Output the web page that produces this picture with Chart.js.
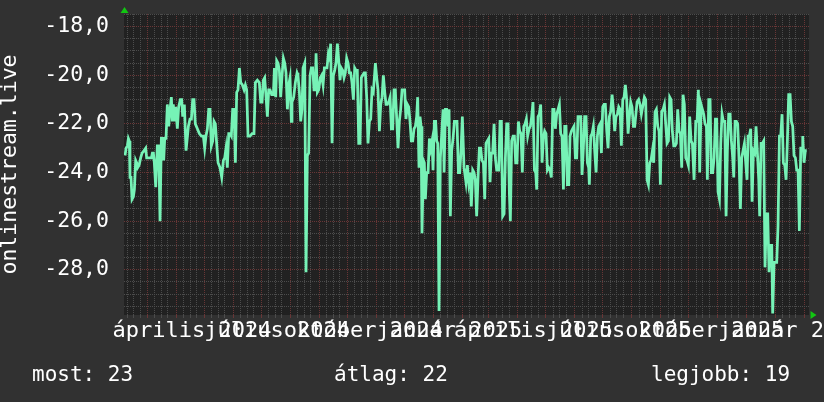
<!DOCTYPE html>
<html>
<head>
<meta charset="utf-8">
<script src="https://cdn.jsdelivr.net/npm/chart.js@4.4.1/dist/chart.umd.min.js"></script>
<style>
    html, body { margin: 0; padding: 0; background: #313131; }
    #wrap { width: 824px; height: 402px; }
</style>
</head>
<body>
<div id="wrap"><canvas id="chart" width="824" height="402"></canvas></div>
<script>
// days counted from this date
const startDate = '2024-03-01';

// spring - summer 2024
const daysA = [-23.5,-22.4,-21.0,-19.9,-18.9,-18.2,-17.1,-16.0,-14.6,-13.5,-12.1,-11.0,-10.0,-8.5,-6.8,-5.3,-3.2,-1.4,-0.4,2.5,
    4.6,5.7,6.8,7.8,9.3,11.0,12.5,13.9,15.3,16.7,17.8,18.9,20.3,21.7,23.2,24.6,26.0,27.1,28.1,29.2,
    30.6,32.4,33.8,35.6,37.0,38.1,39.9,41.7,42.7,44.2,45.9,47.4,48.8,50.2,51.6,53.8,55.9,58.1,60.2,61.6,
    63.0,64.5,65.9,67.3,68.7,70.2,71.6,73.0,74.4,75.9,78.0,79.8,81.6,83.0,84.4,85.8,87.3,88.7,90.1,91.5,
    93.0,94.4,95.8,97.2,98.7,100.1,101.9,103.7,105.1,106.5,107.9,110.1,112.2,114.3,115.8,117.9,120.0,121.5,122.9,124.3,
    125.7,127.2,128.6,130.0,131.4,133.2,135.0,136.1,137.5,138.6,140.0,141.4,142.8,144.3,145.7,147.1,148.5,150.0,151.4,152.8,
    154.2];
const valsA = [-23.3,-23.0,-22.9,-22.6,-22.7,-24.2,-24.2,-25.1,-25.0,-24.7,-23.5,-23.6,-23.8,-23.7,-23.4,-23.2,-23.1,-23.0,-23.4,-23.4,
    -23.4,-23.2,-23.2,-23.6,-24.6,-22.9,-22.9,-26.0,-22.6,-22.6,-23.5,-22.6,-22.6,-21.2,-22.1,-21.4,-20.9,-21.9,-21.2,-21.9,
    -21.3,-22.2,-21.3,-21.0,-21.0,-21.7,-21.2,-23.1,-23.1,-22.1,-21.8,-21.8,-21.0,-21.0,-22.0,-22.2,-22.4,-22.5,-22.5,-23.0,
    -22.5,-22.2,-21.4,-21.4,-22.9,-22.7,-21.9,-22.0,-22.8,-23.6,-23.8,-24.2,-23.5,-23.4,-23.0,-23.8,-22.4,-22.4,-22.5,-21.4,
    -21.4,-23.6,-20.7,-20.6,-19.7,-20.3,-20.4,-20.6,-20.4,-20.6,-22.5,-22.5,-22.4,-22.4,-20.3,-20.2,-20.3,-21.1,-21.1,-20.2,
    -20.1,-20.9,-21.7,-20.6,-20.6,-20.8,-20.8,-19.7,-20.9,-19.4,-19.5,-19.8,-20.9,-20.0,-19.3,-19.5,-19.9,-21.4,-20.4,-20.1,
    -21.9];

// autumn 2024 - winter
const daysB = [154.9,156.7,158.5,160.3,161.3,162.8,164.2,165.6,166.7,168.5,169.9,171.3,172.7,174.2,175.6,177.0,178.4,179.9,180.6,182.0,
    183.4,185.2,186.6,188.1,189.5,190.9,192.3,193.8,195.2,196.2,197.7,199.1,200.5,201.9,203.4,204.8,206.2,207.6,209.1,210.5,
    211.9,213.3,214.8,216.2,217.6,219.0,220.5,221.9,223.3,224.7,226.2,227.6,229.0,230.4,231.9,233.3,234.7,236.1,237.6,239.0,
    240.4,241.8,244.0,245.4,246.8,248.3,249.7,251.1,252.5,254.0,255.4,256.8,258.2,259.7,261.1,262.5,263.9,265.3,266.8,268.2,
    269.6,271.0,272.5,273.9,275.3,276.7,278.2,279.6,281.0,282.4,283.9,285.3,286.7,288.1,289.2,290.6,291.7,292.8,293.8,295.3,
    296.3,297.4,298.8,300.3,301.7,303.1,304.5,305.6,307.0,308.4,309.5,310.6,312.0,313.4,314.9,316.3,317.4,318.8,320.2,321.6,
    322.7,324.1,325.5,327.0,328.4,329.8,331.2,332.7,334.1,335.5,336.9];
const valsB = [-21.1,-20.9,-20.3,-19.9,-20.0,-20.7,-21.9,-21.4,-19.7,-19.5,-28.1,-23.3,-23.2,-20.0,-19.7,-19.7,-20.6,-20.6,-19.1,-20.7,
    -20.6,-20.1,-20.0,-20.4,-19.7,-19.7,-19.7,-19.1,-19.3,-18.7,-22.8,-20.0,-19.8,-19.5,-18.7,-19.4,-20.2,-19.7,-19.8,-20.1,
    -19.9,-19.3,-19.5,-19.9,-19.9,-20.3,-21.0,-19.7,-19.8,-19.8,-22.8,-22.8,-20.1,-20.0,-19.9,-19.9,-20.9,-22.8,-21.9,-21.8,
    -20.6,-20.7,-19.5,-20.1,-20.6,-22.3,-21.2,-20.9,-20.0,-20.7,-21.2,-21.2,-21.1,-20.9,-22.2,-22.2,-20.6,-20.6,-21.8,-23.0,
    -21.9,-21.4,-20.6,-20.6,-20.6,-21.8,-21.2,-21.3,-21.9,-22.7,-22.7,-22.2,-22.1,-21.7,-20.9,-23.8,-21.7,-22.1,-26.5,-23.5,
    -23.6,-25.1,-24.0,-24.0,-22.6,-23.0,-22.7,-23.9,-21.9,-21.9,-22.7,-22.8,-29.7,-23.4,-22.4,-21.4,-24.0,-21.4,-21.4,-22.1,
    -21.4,-25.8,-23.1,-22.6,-21.9,-21.9,-21.9,-24.0,-24.0,-23.1,-21.7];

// 2025 first half
const daysC = [338.7,340.8,342.3,343.7,345.1,346.5,348.0,349.4,350.8,352.2,353.7,355.1,356.5,357.9,359.4,360.8,362.2,363.6,365.1,366.5,
    367.9,369.3,370.8,372.2,373.6,375.8,377.2,378.6,380.0,381.5,382.9,384.3,385.7,387.2,388.2,389.6,391.1,392.5,393.9,395.3,
    396.8,398.2,399.6,401.0,402.5,403.9,405.3,406.7,408.2,409.6,411.0,412.4,413.9,415.3,416.4,417.8,419.2,420.6,422.1,423.5,
    424.9,426.3,427.8,429.2,430.6,432.0,433.5,434.9,436.3,437.7,439.2,440.6,442.0,443.4,444.9,446.3,447.7,449.1,450.6,452.0,
    453.4,454.8,456.2,457.7,459.1,460.5,461.9,463.4,464.8,466.2,467.6,469.1,470.5,471.9,472.6,474.1,475.5,476.9,478.3,479.8,
    481.2,482.6,484.0,485.5,486.9,488.3,489.7,491.2,492.6,494.0,495.4,496.9,498.3,499.7,501.1,502.6,504.0,505.4,506.8,508.3,
    509.7,511.1,512.5,514.0,515.4,516.8,518.2,519.7,521.1];
const valsC = [-23.8,-24.4,-23.7,-24.4,-24.0,-25.4,-23.9,-24.0,-24.3,-25.8,-24.2,-23.0,-23.0,-23.5,-23.6,-25.1,-22.8,-22.7,-22.6,-24.4,
    -23.2,-23.2,-22.0,-23.4,-23.9,-23.9,-21.9,-21.9,-25.8,-25.7,-23.4,-22.0,-22.0,-24.9,-26.0,-22.7,-22.5,-22.5,-23.6,-23.6,
    -21.9,-22.3,-22.4,-24.0,-22.1,-22.0,-21.8,-22.5,-22.2,-22.1,-21.7,-21.1,-23.9,-24.0,-24.7,-21.7,-21.6,-21.2,-23.6,-22.6,
    -22.3,-22.4,-23.9,-23.8,-23.9,-24.2,-21.4,-21.4,-22.2,-21.6,-21.4,-21.2,-22.4,-22.5,-24.7,-22.1,-22.1,-24.5,-24.5,-22.5,
    -22.3,-22.2,-22.1,-23.4,-23.4,-21.7,-21.7,-21.7,-24.1,-23.0,-21.7,-21.7,-23.6,-23.8,-24.5,-22.5,-22.4,-22.1,-23.1,-24.0,
    -22.5,-22.1,-22.0,-23.2,-21.3,-21.2,-21.2,-22.3,-23.0,-21.7,-21.5,-20.8,-21.4,-22.3,-21.7,-21.6,-21.3,-21.4,-22.9,-21.0,
    -20.9,-20.4,-21.0,-22.4,-21.7,-21.1,-21.3,-22.1,-22.1];

// 2025 second half - 2026
const daysD = [523.6,525.3,526.8,528.2,529.6,531.4,532.8,534.3,535.7,537.1,538.5,540.0,541.4,542.8,544.2,545.7,547.1,548.5,549.9,551.4,
    552.8,554.2,555.6,557.1,558.5,559.9,561.3,562.8,564.2,565.6,567.0,568.5,569.9,571.3,572.7,574.1,575.6,577.0,578.4,579.8,
    581.3,582.7,584.5,586.3,587.7,589.1,590.5,592.0,593.4,594.8,596.2,597.7,598.7,600.2,601.6,603.0,604.4,605.9,607.3,608.7,
    610.1,611.6,613.0,614.4,615.8,617.3,618.7,620.1,621.5,623.0,624.4,625.8,626.9,628.3,629.7,631.1,632.6,634.0,635.4,636.8,
    638.3,639.7,641.1,642.2,643.6,645.0,646.5,647.9,649.3,650.7,652.2,653.6,654.6,656.1,657.5,658.9,660.3,661.8,663.2,664.6,
    666.0,667.5,668.5,670.0,671.4,672.8,674.2,675.7,677.1,678.5,679.9,681.4,682.8,684.2,685.6,687.1,688.5,689.9,691.3,692.8,
    694.2,695.6,697.0,698.5,699.9,700.6,702.0,703.4,704.9];
const valsD = [-21.1,-21.0,-21.2,-21.6,-21.3,-20.9,-21.0,-24.3,-24.5,-23.6,-23.5,-23.1,-23.6,-21.5,-21.4,-22.1,-22.3,-24.5,-21.5,-21.4,
    -21.2,-22.0,-22.8,-22.7,-20.9,-21.0,-22.3,-22.9,-22.9,-22.8,-21.4,-22.3,-22.4,-23.8,-20.8,-21.2,-23.4,-23.5,-23.7,-21.7,
    -22.7,-22.8,-24.3,-21.9,-21.9,-20.6,-24.0,-21.2,-21.4,-21.6,-22.0,-22.1,-24.3,-21.0,-21.0,-24.0,-24.0,-23.4,-21.8,-21.8,
    -24.8,-25.1,-22.8,-21.6,-21.9,-21.9,-25.8,-23.1,-21.6,-21.6,-22.7,-23.4,-24.2,-21.9,-21.9,-22.0,-23.5,-25.5,-23.4,-23.1,
    -22.8,-23.6,-24.3,-22.5,-22.5,-22.2,-25.2,-23.1,-23.2,-22.1,-23.2,-24.3,-25.8,-22.8,-22.8,-22.7,-27.9,-25.7,-25.7,-28.1,
    -27.0,-27.0,-29.8,-27.7,-27.7,-27.7,-26.2,-22.5,-22.5,-21.6,-23.6,-23.7,-24.3,-22.7,-20.8,-20.8,-21.9,-22.1,-23.3,-23.4,
    -23.9,-23.9,-26.4,-23.0,-23.0,-22.5,-23.6,-23.1,-23.1];

// axis labels
const xLabelDates = ['2024-04-01', '2024-07-01', '2024-10-01', '2025-01-01', '2025-04-01', '2025-07-01', '2025-10-01', '2026-01-01'];
const xLabelTexts = ['április 2024', 'július 2024', 'október 2024', 'január 2025', 'április 2025', 'július 2025', 'október 2025', 'január 2026'];
const yTitle = 'onlinestream.live';

// summary line under the chart
const summaryNames = ['most', 'átlag', 'legjobb'];
const summaryValues = [23, 22, 19];

// visible range
const xMin = -24.6, xMax = 707.3;
const yMin = -29.86, yMax = -17.48;

const FONT = 'DejaVu Sans Mono';
const LINE = '#76f2b6';
const GRID_MINOR = '#4c4c4c';
const GRID_MAJOR = '#683636';

function dayOf(s) {
    return (Date.parse(s) - Date.parse(startDate)) / 86400000;
}

const points = [];
[[daysA, valsA], [daysB, valsB], [daysC, valsC], [daysD, valsD]].forEach(([ds, vs]) => {
    ds.forEach((d, i) => points.push({ x: d, y: vs[i] }));
});

function buildXTicks() {
    const out = [];
    const base = Date.parse(startDate);
    for (let k = -2; k < 26; k++) {
        const y = 2024 + Math.floor((2 + k) / 12);
        const m = ((2 + k) % 12 + 12) % 12;
        out.push({ value: (Date.UTC(y, m, 1) - base) / 86400000, kind: 'major' });
        [9, 16, 23].forEach(day => {
            out.push({ value: (Date.UTC(y, m, day) - base) / 86400000, kind: 'minor' });
        });
    }
    xLabelDates.forEach((s, i) => {
        // rrdtool puts the label about half a month after the grid line
        out.push({ value: dayOf(s) + 17, kind: 'label', text: xLabelTexts[i] });
    });
    return out.filter(t => t.value >= xMin && t.value <= xMax).sort((a, b) => a.value - b.value);
}

function buildYTicks() {
    const out = [];
    for (let v = -29.5; v <= -17.5; v += 0.5) {
        out.push({ value: v, kind: (Math.abs(v % 2) < 1e-6) ? 'major' : 'minor' });
    }
    return out;
}

const decorPlugin = {
    id: 'decor',
    beforeDraw(chart) {
        const { ctx, chartArea: a } = chart;
        ctx.save();
        ctx.fillStyle = '#313131';
        ctx.fillRect(0, 0, chart.width, chart.height);
        ctx.fillStyle = '#212121';
        ctx.fillRect(a.left, a.top, a.right - a.left, a.bottom - a.top);
        ctx.restore();
    },
    afterDraw(chart) {
        const { ctx, chartArea: a } = chart;
        ctx.save();
        // axis arrows
        ctx.fillStyle = '#12c612';
        ctx.beginPath();
        ctx.moveTo(a.left - 3.5, a.top - 1);
        ctx.lineTo(a.left + 4.5, a.top - 1);
        ctx.lineTo(a.left + 0.5, a.top - 7);
        ctx.fill();
        ctx.beginPath();
        ctx.moveTo(a.right + 1.5, a.bottom - 4);
        ctx.lineTo(a.right + 1.5, a.bottom + 4);
        ctx.lineTo(a.right + 7.5, a.bottom);
        ctx.fill();
        // summary
        ctx.fillStyle = '#ffffff';
        ctx.font = '21px "' + FONT + '"';
        ctx.textBaseline = 'alphabetic';
        const xs = [32, 334, 651];
        summaryNames.forEach((n, i) => {
            ctx.fillText(n + ': ' + summaryValues[i], xs[i], 381);
        });
        ctx.restore();
    }
};

new Chart(document.getElementById('chart'), {
    type: 'line',
    data: {
        datasets: [{
            data: points,
            borderColor: LINE,
            borderWidth: 2.75,
            pointRadius: 0,
            tension: 0,
            fill: false
        }]
    },
    options: {
        responsive: false,
        animation: false,
        events: [],
        layout: { padding: { top: 14, right: 15, bottom: 0, left: 0 } },
        plugins: { legend: { display: false }, tooltip: { enabled: false } },
        scales: {
            x: {
                type: 'linear',
                min: xMin,
                max: xMax,
                afterBuildTicks: s => { s.ticks = buildXTicks(); },
                afterFit: s => { s.height = 87; s.paddingLeft = 0; s.paddingRight = 0; },
                ticks: {
                    autoSkip: false,
                    maxRotation: 0,
                    minRotation: 0,
                    padding: 0,
                    color: '#ffffff',
                    font: { family: FONT, size: 22 },
                    callback: (v, i, ticks) => ticks[i].kind === 'label' ? ticks[i].text : ''
                },
                grid: {
                    color: c => c.tick.kind === 'major' ? GRID_MAJOR : (c.tick.kind === 'minor' ? GRID_MINOR : 'rgba(0,0,0,0)'),
                    lineWidth: 1,
                    tickLength: 3
                },
                border: { display: false, dash: [1, 1] }
            },
            y: {
                type: 'linear',
                min: yMin,
                max: yMax,
                afterBuildTicks: s => { s.ticks = buildYTicks(); },
                afterFit: s => { s.width = 124; s.paddingTop = 0; s.paddingBottom = 0; },
                ticks: {
                    autoSkip: false,
                    padding: 15,
                    color: '#ffffff',
                    font: { family: FONT, size: 21.5 },
                    callback: (v, i, ticks) => ticks[i].kind === 'major' ? v.toFixed(1).replace('.', ',') : ''
                },
                grid: {
                    color: c => c.tick.kind === 'major' ? GRID_MAJOR : GRID_MINOR,
                    lineWidth: 1,
                    drawTicks: false
                },
                border: { display: false, dash: [1, 1] },
                title: {
                    display: true,
                    text: yTitle,
                    color: '#ffffff',
                    font: { family: FONT, size: 21.5, lineHeight: 1 },
                    padding: 0
                }
            }
        }
    },
    plugins: [decorPlugin]
});
</script>
</body>
</html>
